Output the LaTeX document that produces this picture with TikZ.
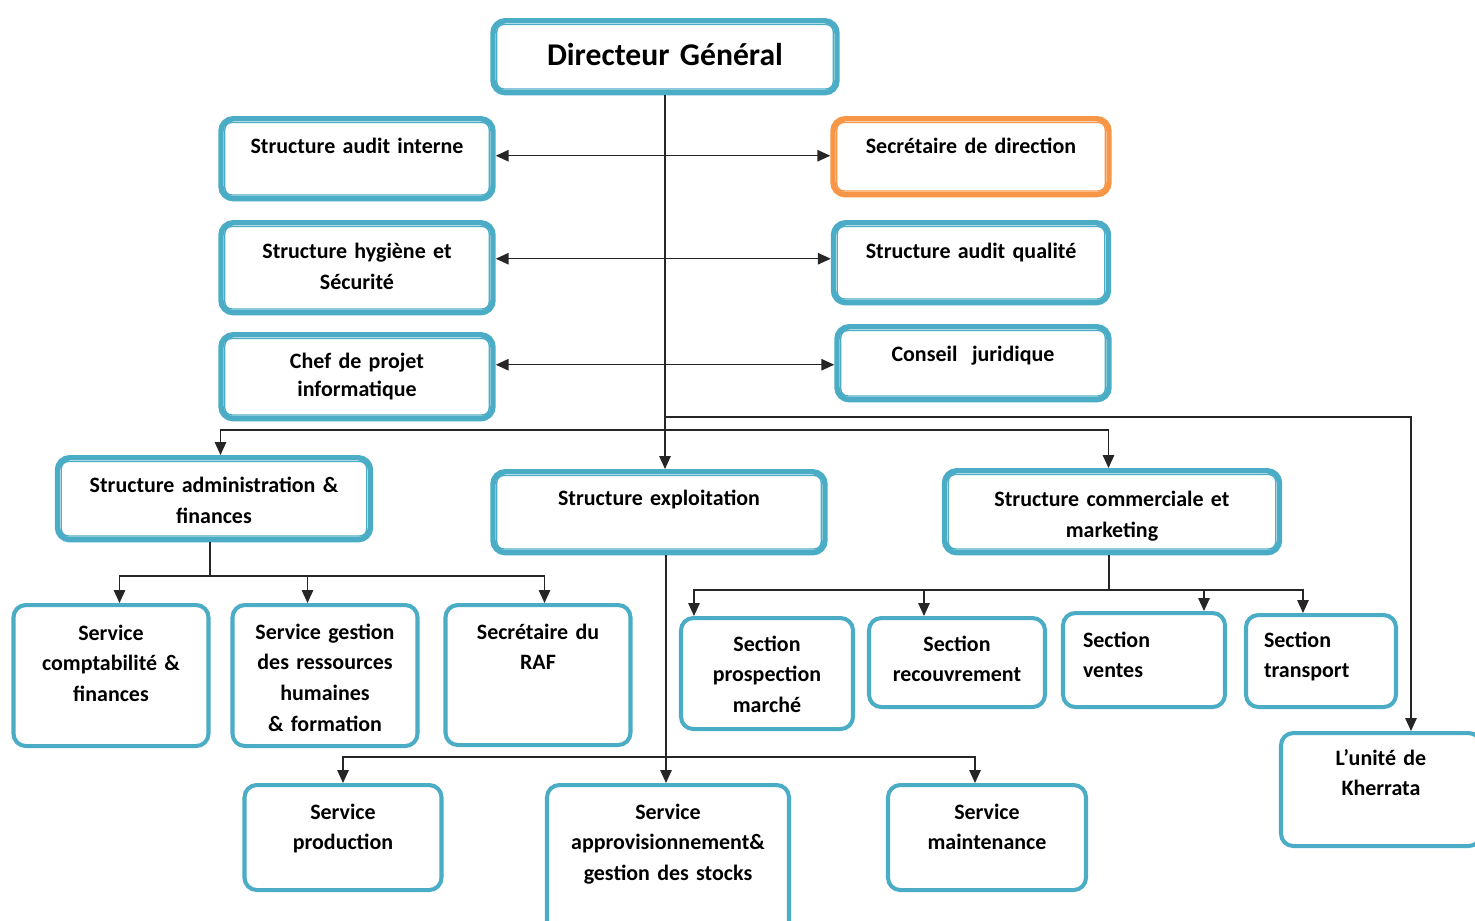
\documentclass[tikz,border=0pt]{standalone}
\usepackage{fontspec}
\setmainfont{Carlito}
\usepackage{tikz}
\usetikzlibrary{positioning, arrows.meta}

\definecolor{aqua}{RGB}{75,172,198}
\definecolor{tangerine}{RGB}{247,150,70}

\begin{document}
\begin{tikzpicture}[x=0.2mm,y=-0.2mm,>={Triangle[length=2.6mm,width=2.3mm]},font=\bfseries\fontsize{12.5}{17.6}\selectfont]

	\tikzstyle{dbox}=[draw=aqua,line width=3.1pt,rounded corners=7pt,align=center,inner sep=0pt,anchor=north]
	\tikzstyle{sbox}=[draw=aqua,line width=2.3pt,rounded corners=7pt,align=center,inner sep=0pt,anchor=north]
	\tikzstyle{innerline}=[line width=0.8pt,rounded corners=4pt]
	\tikzstyle{link}=[line width=0.85pt,black!85]

	\useasboundingbox (0,0) rectangle (1475,920);

	% top level
	\node[dbox,text width=6.88cm,text height=0.9cm,text depth=0.54cm,font=\bfseries\fontsize{18}{22}\selectfont] (dg) at (665,18) {Directeur Général};

	% staff boxes
	\node[dbox,text width=5.44cm,text height=0.7cm,text depth=0.9cm] (audint) at (357,116) {Structure audit interne};
	\node[dbox,draw=tangerine,text width=5.52cm,text height=0.7cm,text depth=0.82cm] (secdir) at (971,116) {Secrétaire de direction};
	\node[dbox,text width=5.44cm,text height=0.72cm,text depth=1.08cm] (hyg) at (357,220) {Structure hygiène et\\ Sécurité};
	\node[dbox,text width=5.5cm,text height=0.72cm,text depth=0.88cm] (aqual) at (971,220) {Structure audit qualité};
	\node[dbox,text width=5.44cm,text height=0.68cm,text depth=1.0cm] (chef) at (357,332) {Chef de projet\\[-0.6mm] informatique};
	\node[dbox,text width=5.44cm,text height=0.7cm,text depth=0.76cm] (cjur) at (973,324) {Conseil\ \ juridique};

	% structures
	\node[dbox,text width=6.26cm,text height=0.7cm,text depth=0.94cm] (adm) at (214,455) {Structure administration \&\\ finances};
	\node[dbox,text width=6.64cm,text height=0.68cm,text depth=0.94cm] (expl) at (659,469) {Structure exploitation};
	\node[dbox,text width=6.7cm,text height=0.72cm,text depth=0.92cm] (comm) at (1112,468) {Structure commerciale et\\ marketing};

	% services
	\node[sbox,text width=3.9cm,text height=0.7cm,text depth=2.12cm] (scf) at (111,603) {Service\\ comptabilité \&\\ finances};
	\node[sbox,text width=3.7cm,text height=0.68cm,text depth=2.14cm] (sgrh) at (325,603) {Service gestion\\ des ressources\\ humaines\\ \& formation};
	\node[sbox,text width=3.7cm,text height=0.68cm,text depth=2.12cm] (raf) at (538,603) {Secrétaire du\\ RAF};

	% sections
	\node[sbox,text width=3.44cm,text height=0.66cm,text depth=1.56cm] (prosp) at (767,616) {Section\\ prospection\\ marché};
	\node[sbox,text width=3.52cm,text height=0.66cm,text depth=1.12cm] (recouv) at (957,616) {Section\\ recouvrement};
	\node[sbox,align=left,inner xsep=0.4cm,text width=2.44cm,text height=0.68cm,text depth=1.2cm] (ventes) at (1144,611) {Section\\ ventes};
	\node[sbox,align=left,inner xsep=0.36cm,text width=2.28cm,text height=0.64cm,text depth=1.2cm] (transp) at (1321,613) {Section\\ transport};
	\node[sbox,text width=4cm,text height=0.64cm,text depth=1.62cm] (kher) at (1381,731) {L’unité de\\ Kherrata};

	% exploitation services
	\node[sbox,text width=3.94cm,text height=0.68cm,text depth=1.42cm] (prod) at (343,783) {Service\\ production};
	\node[sbox,text width=4.84cm,text height=0.68cm,text depth=2.36cm] (appro) at (668,783) {Service\\ approvisionnement\&\\ gestion des stocks};
	\node[sbox,text width=3.96cm,text height=0.68cm,text depth=1.42cm] (maint) at (987,783) {Service\\ maintenance};

	% inner lines of the double boxes
	\foreach \n in {dg,audint,hyg,aqual,chef,cjur,adm,expl,comm}
		\draw[innerline,aqua] ([shift={(3.7pt,-3.7pt)}]\n.north west) rectangle ([shift={(-3.7pt,3.7pt)}]\n.south east);
	\draw[innerline,tangerine] ([shift={(3.7pt,-3.7pt)}]secdir.north west) rectangle ([shift={(-3.7pt,3.7pt)}]secdir.south east);

	% bus points
	\coordinate (bus0) at (665,417);
	\coordinate (bus1) at (665,430);
	\coordinate (bus2) at (210,576);
	\coordinate (bus3) at (1109,590);
	\coordinate (bus4) at (666,757);

	% trunk and staff links
	\draw[link,->] (dg) -- (dg |- expl.north);
	\draw[link,<->] ([yshift=0.6mm]audint.east) -- ([yshift=0.6mm]audint.east -| secdir.west);
	\draw[link,<->] ([yshift=1.8mm]hyg.east) -- ([yshift=1.8mm]hyg.east -| aqual.west);
	\draw[link,<->] ([yshift=2.4mm]chef.east) -- ([yshift=2.4mm]chef.east -| cjur.west);

	% structures
	\draw[link,->] (bus0) -| ([xshift=6mm]kher.north);
	\draw[link,->] (bus1) -| ([xshift=1.3mm]adm.north);
	\draw[link,->] (bus1) -| ([xshift=-0.7mm]comm.north);

	% administration
	\draw[link] (adm.south -| bus2) -- (bus2);
	\draw[link,->] (bus2) -| ([xshift=1.7mm]scf.north);
	\draw[link,->] (bus2) -| ([xshift=-3.5mm]sgrh.north);
	\draw[link,->] (bus2) -| ([xshift=1.3mm]raf.north);

	% commercial
	\draw[link] (comm.south -| bus3) -- (bus3);
	\draw[link,->] (bus3) -| ([xshift=-14.6mm]prosp.north);
	\draw[link,->] (bus3) -| ([xshift=-6.6mm]recouv.north);
	\draw[link,->] (bus3) -| ([xshift=12mm]ventes.north);
	\draw[link,->] (bus3) -| ([xshift=-3.6mm]transp.north);

	% exploitation
	\draw[link,->] (expl.south -| bus4) -- (bus4 |- appro.north);
	\draw[link,->] (bus4) -| (prod.north);
	\draw[link,->] (bus4) -| ([xshift=-2.4mm]maint.north);
\end{tikzpicture}
\end{document}
